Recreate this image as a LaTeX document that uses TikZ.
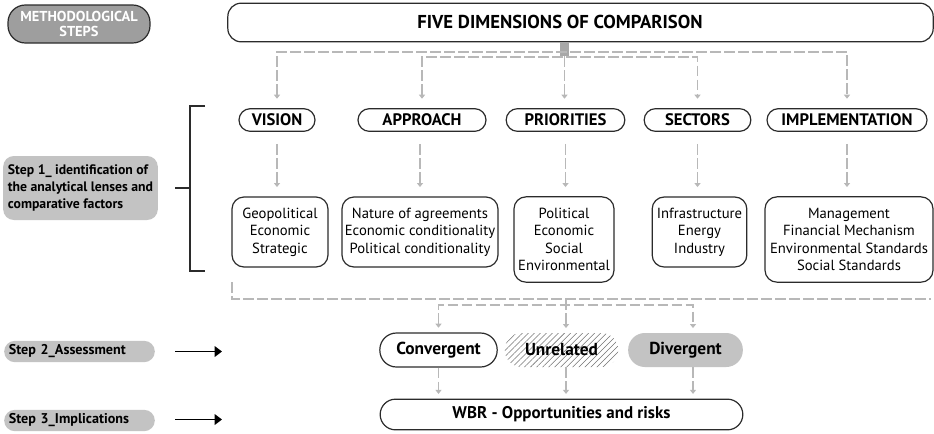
\documentclass[tikz,border=0pt]{standalone}
\usepackage{fontspec}
\setmainfont{PT Sans}
\usetikzlibrary{arrows.meta,positioning,calc,patterns.meta}
\definecolor{dashgray}{HTML}{B8B8B8}
\definecolor{hubgray}{HTML}{A8A8A8}
\definecolor{stepgray}{HTML}{C3C3C3}
\definecolor{methgray}{HTML}{9E9E9E}
\definecolor{edgedark}{HTML}{2B2B2B}

\begin{document}
\begin{tikzpicture}[x=0.75pt,y=-0.75pt,
  head/.style={draw=edgedark, line width=0.9pt, rounded corners=8.5pt, minimum height=17pt, inner sep=0pt, font=\bfseries\fontsize{12.5}{14}\selectfont},
  factors/.style={draw=edgedark, line width=0.9pt, rounded corners=9pt, align=center, inner sep=0pt, font=\fontsize{11}{13}\selectfont},
  stepbox/.style={fill=stepgray, rounded corners=8pt, inner sep=0pt, align=left, font=\bfseries\fontsize{10.3}{12.5}\selectfont},
  outcome/.style={rounded corners=12.5pt, minimum height=25.5pt, inner sep=0pt, font=\bfseries\fontsize{13}{15}\selectfont},
  dline/.style={draw=dashgray, line width=0.8pt, dash pattern=on 8pt off 2.5pt},
  darr/.style={dline, -{Triangle[length=3pt,width=4.5pt]}, shorten >=3.5pt},
  blkarr/.style={-{Triangle[length=5.5pt,width=8pt]}, line width=1pt, black}
]
  \useasboundingbox (0,0) rectangle (934,433);

  % left column: methodological steps
  \node[draw=edgedark, line width=0.9pt, fill=methgray, rounded corners=13pt, minimum width=106.5pt, minimum height=28.5pt, inner sep=0pt, align=center, text=white, font=\bfseries\fontsize{10.8}{11.5}\selectfont] (meth) at (79,24) {METHODOLOGICAL\\STEPS};
  \node[stepbox, minimum width=116pt, minimum height=48pt] (step1) at (80.5,188) {Step 1\_ identification of\\the analytical lenses and\\comparative factors};
  \node[stepbox, minimum width=113pt, minimum height=16pt, text width=106pt, font=\bfseries\fontsize{10.6}{12.5}\selectfont] (step2) at (79.5,351.5) {Step 2\_Assessment};
  \node[stepbox, minimum width=113pt, minimum height=16pt, text width=106pt, font=\bfseries\fontsize{10.6}{12.5}\selectfont] (step3) at (79.5,420.5) {Step 3\_Implications};

  % five dimensions
  \node[draw=edgedark, line width=0.9pt, rounded corners=10pt, minimum width=529pt, minimum height=29pt] (dims) at (580.5,22.5) {};
  \node[font=\bfseries\fontsize{14}{15}\selectfont] (dimstitle) at (560,22) {FIVE DIMENSIONS OF COMPARISON};
  \node[fill=hubgray, minimum width=6.5pt, minimum height=10.5pt, inner sep=0pt] (hub) at (564.5,49) {};

  \node[head, minimum width=57pt] (vision) at (277,120) {VISION};
  \node[head, minimum width=96pt] (approach) at (422,120) {APPROACH};
  \node[head, minimum width=89pt] (prio) at (565.5,120) {PRIORITIES};
  \node[head, minimum width=80pt] (sect) at (697.5,120) {SECTORS};
  \node[head, minimum width=120pt] (impl) at (847,120) {IMPLEMENTATION};

  \node[factors, minimum width=72pt, minimum height=52.5pt] (visionf) at (280,232) {Geopolitical\\Economic\\Strategic};
  \node[factors, minimum width=117pt, minimum height=52.5pt] (approachf) at (420,232) {Nature of agreements\\Economic conditionality\\Political conditionality};
  \node[factors, minimum width=75pt, minimum height=64pt] (priof) at (564,239.5) {Political\\Economic\\Social\\Environmental};
  \node[factors, minimum width=71pt, minimum height=52.5pt] (sectf) at (699.5,232) {Infrastructure\\Energy\\Industry};
  \node[factors, minimum width=126pt, minimum height=64pt] (implf) at (849,239.5) {Management\\Financial Mechanism\\Environmental Standards\\Social Standards};

  % bracket of step 1
  \coordinate (brtop) at (205,106);
  \coordinate (brbot) at (205,271);
  \coordinate (brmid) at (190,188);
  \draw[line width=1pt, edgedark] (brtop) -| (brbot -| brmid) -- (brbot);
  \draw[line width=1pt, edgedark] (brmid) -- ++(-15,0);

  % dimensions to lenses
  \coordinate (busout) at (564.5,52);
  \coordinate (busin) at (564.5,57);
  \draw[dline, {Triangle[length=3pt,width=4.5pt]}-{Triangle[length=3pt,width=4.5pt]}, shorten <=7pt, shorten >=7pt] (vision.north) |- (busout) -| (impl.north);
  \draw[dline, {Triangle[length=3pt,width=4.5pt]}-{Triangle[length=3pt,width=4.5pt]}, shorten <=7pt, shorten >=7pt] (vision.north -| approach) |- (busin) -| (sect.north);
  \draw[darr, shorten >=7pt] (hub.south) -- (hub.south |- prio.north);
  \foreach \h in {vision,prio,sect,impl}
    \draw[darr, shorten <=9pt, shorten >=7pt] (\h.south) -- (\h.south |- visionf.north);
  \draw[darr, shorten <=9pt, shorten >=7pt] (approach.south -| approachf) -- (approachf.north);

  % assessment
  \node[outcome, draw=edgedark, line width=0.9pt, minimum width=88pt] (conv) at (438.5,350) {Convergent};
  \node[outcome, pattern={Lines[angle=45,distance=3.2pt,line width=0.4pt]}, pattern color=black!55, minimum width=85pt] (unrel) at (561.5,350) {Unrelated};
  \node[outcome, fill=stepgray, minimum width=86pt] (div) at (685.5,350) {Divergent};
  \node[outcome, draw=edgedark, line width=0.9pt, minimum width=272pt, minimum height=23pt, rounded corners=11.5pt, font=\bfseries\fontsize{12.7}{15}\selectfont] (wbr) at (561.5,414.5) {WBR - Opportunities and risks};

  \coordinate (colc) at (693,0);
  \coordinate (colb) at (566,0);
  \coordinate (enclose) at (232,282);
  \coordinate (enclend) at (931,299);
  \coordinate (split) at (566,299);
  \coordinate (splitbus) at (566,305);
  \draw[dline] (enclose) |- (enclend);
  \draw[darr] (split) -- (unrel.north -| colb);
  \draw[dline, {Triangle[length=3pt,width=4.5pt]}-{Triangle[length=3pt,width=4.5pt]}, shorten <=3.5pt, shorten >=3.5pt] (conv.north) |- (splitbus) -| (div.north -| colc);
  \draw[darr, shorten <=0pt] (conv.south) -- (wbr.north -| conv.south);
  \draw[darr, shorten <=0pt] (unrel.south -| colb) -- (wbr.north -| colb);
  \draw[darr, shorten <=0pt] (div.south -| colc) -- (wbr.north -| colc);

  % step arrows
  \coordinate (s2a) at (175,351.5);
  \coordinate (s2b) at (222,351.5);
  \coordinate (s3a) at (175,419.5);
  \coordinate (s3b) at (222,419.5);
  \draw[blkarr] (s2a) -- (s2b);
  \draw[blkarr] (s3a) -- (s3b);
\end{tikzpicture}
\end{document}
